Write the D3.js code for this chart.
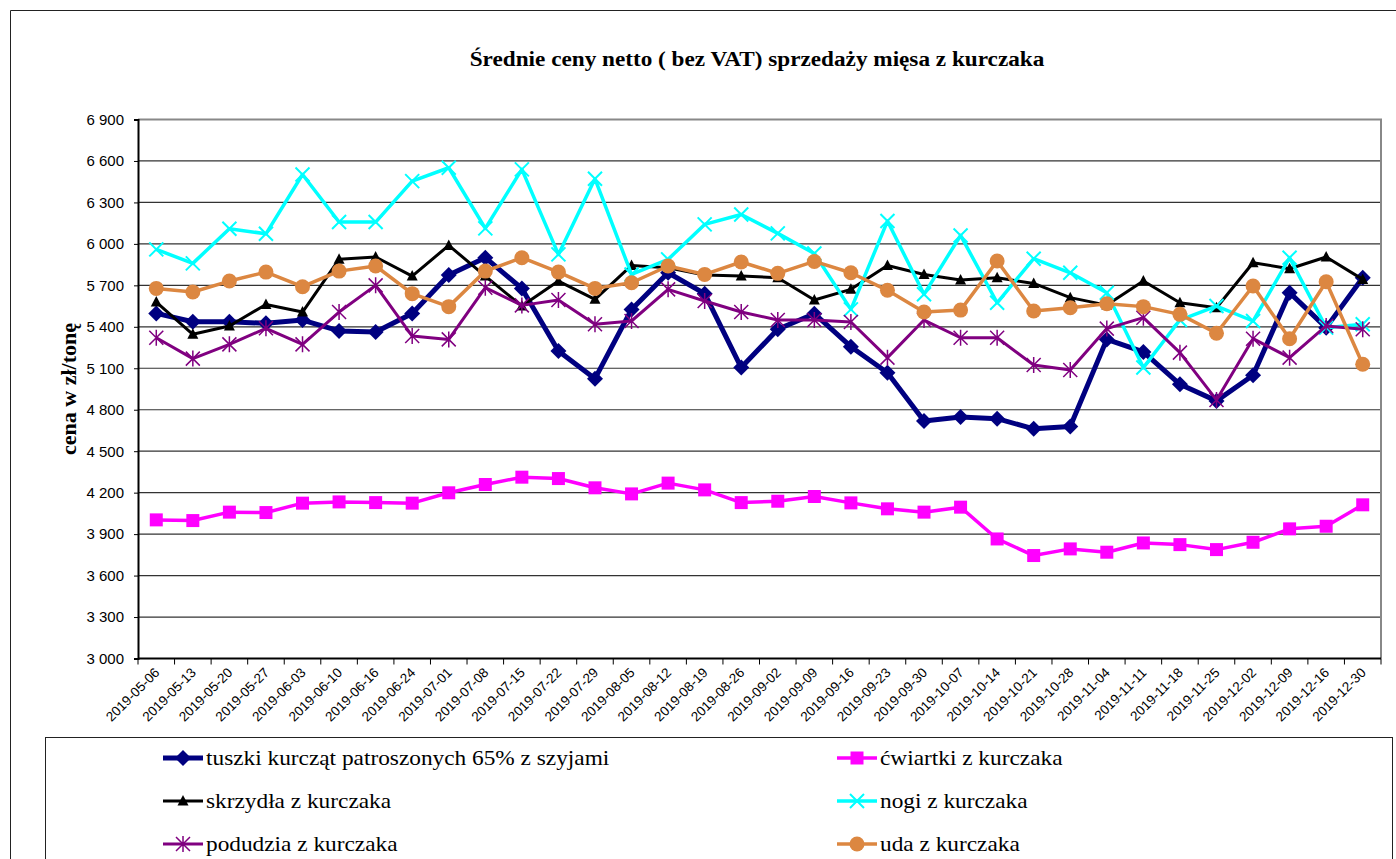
<!DOCTYPE html>
<html><head><meta charset="utf-8">
<script src="https://cdn.jsdelivr.net/npm/d3@7"></script>
<style>body{margin:0;background:#fff}svg{display:block}</style>
</head><body>
<svg id="chart" width="1396" height="859"></svg>
<script>
const categories = ["2019-05-06","2019-05-13","2019-05-20","2019-05-27","2019-06-03","2019-06-10","2019-06-16","2019-06-24","2019-07-01","2019-07-08","2019-07-15","2019-07-22","2019-07-29","2019-08-05","2019-08-12","2019-08-19","2019-08-26","2019-09-02","2019-09-09","2019-09-16","2019-09-23","2019-09-30","2019-10-07","2019-10-14","2019-10-21","2019-10-28","2019-11-04","2019-11-11","2019-11-18","2019-11-25","2019-12-02","2019-12-09","2019-12-16","2019-12-30"];
const tuszki = [5497,5437,5437,5425,5449,5370,5362,5497,5775,5900,5678,5225,5025,5526,5791,5640,5105,5382,5495,5256,5068,4718,4747,4735,4662,4679,5309,5218,4984,4864,5049,5647,5394,5755];
const cwiartki = [4003,3998,4059,4056,4124,4133,4128,4124,4199,4259,4312,4302,4235,4191,4269,4220,4128,4138,4172,4126,4083,4059,4095,3865,3745,3793,3769,3836,3824,3788,3841,3938,3957,4112];
const skrzydla = [5579,5346,5406,5562,5507,5888,5905,5767,5989,5767,5550,5731,5599,5844,5828,5775,5767,5755,5594,5671,5844,5779,5738,5755,5714,5611,5557,5731,5574,5538,5864,5820,5905,5743];
const nogi = [5960,5859,6110,6073,6502,6158,6158,6454,6551,6112,6539,5924,6471,5779,5888,6141,6213,6076,5931,5526,6165,5635,6061,5574,5893,5791,5647,5105,5449,5550,5442,5900,5394,5418];
const podudzia = [5321,5170,5273,5389,5273,5507,5700,5333,5309,5683,5555,5594,5418,5442,5671,5587,5507,5449,5449,5435,5177,5449,5321,5321,5124,5088,5387,5466,5213,4871,5314,5177,5406,5382];
const uda = [5678,5652,5731,5796,5690,5803,5840,5640,5546,5803,5900,5796,5678,5719,5840,5779,5869,5787,5873,5791,5664,5507,5521,5876,5514,5538,5567,5546,5490,5353,5695,5314,5726,5129];
const seriesNames = ["tuszki kurcząt patroszonych 65% z szyjami","ćwiartki z kurczaka","skrzydła z kurczaka","nogi z kurczaka","podudzia z kurczaka","uda z kurczaka"];
const yTicks = [3000,3300,3600,3900,4200,4500,4800,5100,5400,5700,6000,6300,6600,6900];
const titleText = "Średnie ceny netto ( bez VAT) sprzedaży mięsa z kurczaka";
const yAxisTitle = "cena w zł/tonę";

const seriesData = [tuszki, cwiartki, skrzydla, nogi, podudzia, uda];
const styles = [
  {color:"#000080", width:5, marker:"diamond"},
  {color:"#FF00FF", width:3.5, marker:"square"},
  {color:"#000000", width:3, marker:"triangle"},
  {color:"#00FFFF", width:3.5, marker:"x"},
  {color:"#800080", width:3, marker:"star"},
  {color:"#DC8741", width:3.5, marker:"circle"}
];

const svg = d3.select("#chart");
const L = 138, R = 1381, T = 119.5, B = 658.5;
const serif = "'Liberation Serif','Times New Roman',serif";
const sans = "'Liberation Sans',Arial,sans-serif";

function stretch(sel, f){
  sel.each(function(){
    const w = this.getComputedTextLength();
    d3.select(this).attr("textLength", w*f).attr("lengthAdjust","spacingAndGlyphs");
  });
}

// outer frame
svg.append("path").attr("d","M10.5,859 V10.5 H1396").attr("fill","none").attr("stroke","#222").attr("stroke-width",1);

const title = svg.append("text").attr("x",757).attr("y",66).attr("text-anchor","middle")
  .attr("font-family",serif).attr("font-weight","bold")
  .attr("font-size",20).text(titleText);
stretch(title, 1.16);

const x = d3.scalePoint().domain(categories).range([L,R]).padding(0.5);
const y = d3.scaleLinear().domain([3000,6900]).range([B,T]);
const step = x.step();

// gridlines
svg.append("g").selectAll("line").data(yTicks.filter(v=>v>3000 && v<6900)).join("line")
  .attr("x1",L).attr("x2",R).attr("y1",d=>y(d)).attr("y2",d=>y(d))
  .attr("stroke","#333").attr("stroke-width",1.2);
// plot frame top/right
svg.append("path").attr("d",`M${L},${y(6900)} H${R} V${B}`).attr("fill","none").attr("stroke","#888").attr("stroke-width",2);

// y axis
const fmt = v => d3.format(",")(v).replace(/,/g," ");
const yAxis = d3.axisLeft(y).tickValues(yTicks).tickFormat(fmt).tickSize(4).tickPadding(10);
const gy = svg.append("g").attr("transform",`translate(${L},0)`).call(yAxis);
gy.select(".domain").attr("stroke","#000").attr("stroke-width",2);
gy.selectAll(".tick line").attr("stroke","#000");
gy.selectAll(".tick text").attr("font-family",sans).attr("font-size",15).attr("fill","#000");

// x axis: ticks at band boundaries
const gx = svg.append("g").attr("transform",`translate(0,${B})`);
gx.append("line").attr("x1",L).attr("x2",R).attr("stroke","#000").attr("stroke-width",2);
gx.selectAll("line.tk").data(d3.range(categories.length+1)).join("line").attr("class","tk")
  .attr("x1",i=>L+i*step).attr("x2",i=>L+i*step).attr("y1",0).attr("y2",6).attr("stroke","#000");
gx.selectAll("text").data(categories).join("text")
  .attr("transform",d=>`translate(${x(d)+4},${15}) rotate(-45)`)
  .attr("text-anchor","end").attr("font-family",sans)
  .attr("font-size",13.5).attr("fill","#000").text(d=>d);

// y title
svg.append("text").attr("transform",`translate(76,389) rotate(-90)`).attr("text-anchor","middle")
  .attr("font-family",serif).attr("font-weight","bold")
  .attr("font-size",22).text(yAxisTitle);

function markerPath(type){
  switch(type){
    case "diamond": return "M0,-8L8,0L0,8L-8,0Z";
    case "square": return "M-6.5,-6.5H6.5V6.5H-6.5Z";
    case "triangle": return "M0,-6L5.5,4.5H-5.5Z";
    case "x": return "M-7,-7L7,7M-7,7L7,-7";
    case "star": return "M0,-8V8M-7,-7L7,7M-7,7L7,-7";
    case "circle": return d3.symbol(d3.symbolCircle, Math.PI*7.5*7.5)();
  }
}
function drawMarker(g, type, color){
  const p = g.append("path").attr("d", markerPath(type));
  if(type==="x"){ p.attr("fill","none").attr("stroke",color).attr("stroke-width",2); }
  else if(type==="star"){ p.attr("fill","none").attr("stroke",color).attr("stroke-width",1.5); }
  else p.attr("fill",color).attr("stroke","none");
}

const line = d3.line().x((d,i)=>x(categories[i])).y(d=>y(d));
seriesData.forEach((data,k)=>{
  const st = styles[k];
  const g = svg.append("g");
  g.append("path").datum(data).attr("d",line).attr("fill","none").attr("stroke",st.color)
    .attr("stroke-width",st.width).attr("stroke-linejoin","round");
  data.forEach((v,i)=>{
    const mg = g.append("g").attr("transform",`translate(${x(categories[i])},${y(v)})`);
    drawMarker(mg, st.marker, st.color);
  });
});

// legend
svg.append("rect").attr("x",45.5).attr("y",737.5).attr("width",1347).attr("height",130)
  .attr("fill","#fff").attr("stroke","#222");
const legX = [163, 837], legY = [758, 801, 844];
seriesNames.forEach((name,k)=>{
  const col = k%2, row = Math.floor(k/2);
  const g = svg.append("g").attr("transform",`translate(${legX[col]},${legY[row]})`);
  g.append("line").attr("x1",0).attr("x2",40).attr("stroke",styles[k].color).attr("stroke-width",styles[k].width);
  const mg = g.append("g").attr("transform","translate(20,0)");
  drawMarker(mg, styles[k].marker, styles[k].color);
  const t = g.append("text").attr("x",43).attr("y",7).attr("font-family",serif)
    .attr("font-size",21).attr("fill","#000").text(name);
  stretch(t, 1.11);
});
</script>
</body></html>
